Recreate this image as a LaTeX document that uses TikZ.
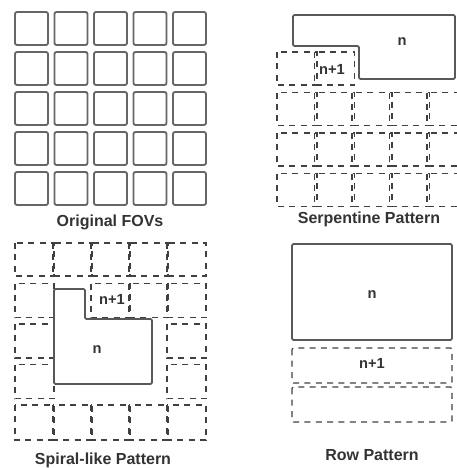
\documentclass[tikz,border=0pt]{standalone}
\usepackage{fontspec}
\setmainfont{Liberation Sans}

\begin{document}
\begin{tikzpicture}[
    x=0.75pt,y=-0.75pt,
    fov/.style={draw=black!60,line width=1.4pt,rounded corners=1.5pt},
    tile/.style={draw=black!75,line width=0.9pt,dash pattern=on 4.5pt off 4pt},
    region/.style={draw=black!65,line width=1.4pt,rounded corners=1pt},
    caption/.style={font=\fontsize{12}{14}\selectfont\bfseries,text=black!80},
    tag/.style={font=\fontsize{11}{13}\selectfont\bfseries,text=black!80}
]
\useasboundingbox (0,0) rectangle (457,468);

% Original FOVs
\foreach \i in {0,...,4}
    \foreach \j in {0,...,4}
        \draw[fov] ({15+39.5*\i},{12+40*\j}) rectangle +(33,33);
\node[caption] (orig) at (110,222) {Original FOVs};

% Serpentine pattern
\begin{scope}
\clip (230,0) rectangle (457,468);
\foreach \i in {0,1}
    \draw[tile] ({277+37.5*\i},52) rectangle +(40,33);
\foreach \i in {0,...,4}
    \foreach \j in {1,2,3}
        \draw[tile] ({277+37.5*\i},{52+40.5*\j}) rectangle +(40,33);
\draw[region] (293,15) -- (455,15) -- (455,79) -- (359,79) -- (359,46) -- (293,46) -- cycle;
\end{scope}
\node[tag] (serpn) at (402,42) {n};
\node[tag] (serpnext) at (332,69) {n+1};
\node[caption] (serp) at (369,219) {Serpentine Pattern};

% Spiral-like pattern
\foreach \i in {0,...,4} {
    \draw[tile] ({15+38*\i},243) rectangle +(39,33);
    \draw[tile] ({15+38*\i},405) rectangle +(39,35);
}
\foreach \j in {1,2,3} {
    \draw[tile] (15,{243+40.5*\j}) rectangle +(39,34);
    \draw[tile] (167,{243+40.5*\j}) rectangle +(39,34);
}
\foreach \i in {2,3}
    \draw[tile] ({15+38*\i},283.5) rectangle +(39,34);
\draw[region] (54,289) -- (85,289) -- (85,319) -- (152,319) -- (152,384) -- (54,384) -- cycle;
\node[tag] (spirn) at (97,350) {n};
\node[tag] (spirnext) at (112,299) {n+1};
\node[caption] (spir) at (103,460) {Spiral-like Pattern};

% Row pattern
\draw[region] (292,244) rectangle (452,340);
\draw[tile,rounded corners=1pt] (292,348) rectangle (452,383);
\draw[tile,rounded corners=1pt] (292,387) rectangle (452,422);
\node[tag] (rown) at (372,295) {n};
\node[tag] (rownext) at (372,363) {n+1};
\node[caption] (row) at (372,455) {Row Pattern};

\end{tikzpicture}
\end{document}
